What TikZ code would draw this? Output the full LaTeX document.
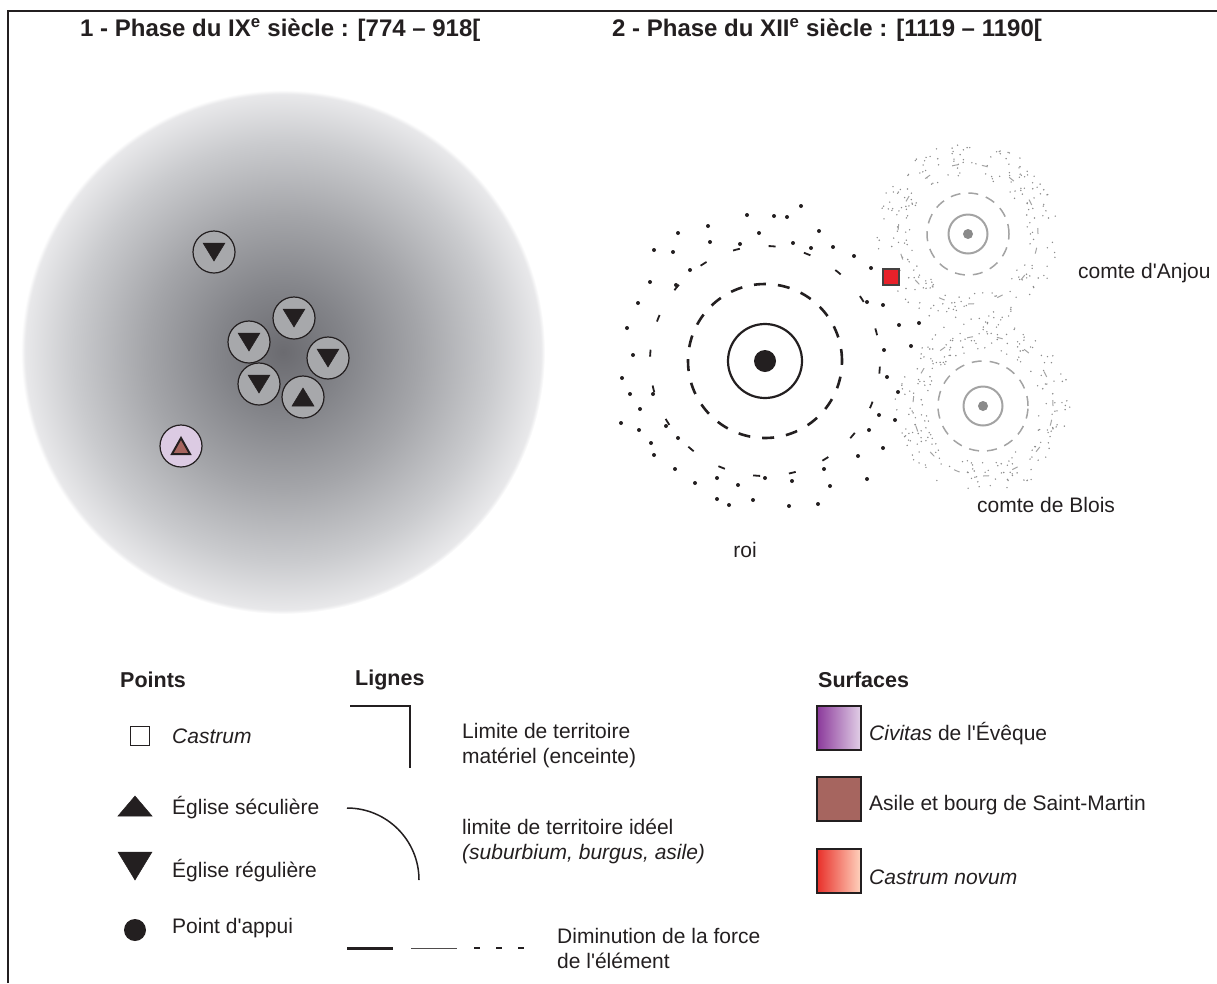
\documentclass[tikz,border=0pt]{standalone}
\usepackage{fontspec}
\setmainfont{Liberation Sans}
\usetikzlibrary{calc}
\definecolor{ink}{HTML}{231F20}
\definecolor{chgray}{HTML}{A7A8AB}
\definecolor{lavender}{HTML}{DCCBE3}
\definecolor{brique}{HTML}{A6655F}
\definecolor{rouge}{HTML}{E8212A}
\definecolor{comtegray}{HTML}{A3A3A3}
\definecolor{dotgray}{HTML}{8A8A8A}
\definecolor{stip}{HTML}{8C8C8C}
\definecolor{sh0}{HTML}{6B6B70}
\definecolor{sh1}{HTML}{838489}
\definecolor{sh2}{HTML}{A4A5A9}
\definecolor{sh3}{HTML}{CACBCE}
\definecolor{sh4}{HTML}{E8E8EA}
\definecolor{purA}{HTML}{8B3A9B}
\definecolor{purB}{HTML}{E2D0E7}
\definecolor{redA}{HTML}{E8302A}
\definecolor{redB}{HTML}{FFD3BE}
\pgfdeclareradialshading{halo}{\pgfpoint{0bp}{0bp}}{%
  color(0bp)=(sh0); color(6bp)=(sh1); color(13bp)=(sh2); color(20bp)=(sh3); color(24.6bp)=(sh4); color(25bp)=(white); color(50bp)=(white)}
\tikzset{
  body/.style={font=\fontsize{21}{25}\selectfont, text=ink, inner sep=0pt},
  head/.style={font=\fontsize{21.5}{25}\selectfont\bfseries, text=ink, inner sep=0pt, anchor=west},
  title/.style={font=\fontsize{24}{28}\selectfont\bfseries, text=ink, inner sep=0pt, anchor=west},
  church/.style={circle, draw=ink, line width=1.2pt, fill=chgray, minimum size=42pt, inner sep=0pt},
  tri/.style={fill=ink, draw=ink, line width=0.5pt, line join=miter},
  swatch/.style={draw=ink, line width=1.6pt, minimum size=44pt, inner sep=0pt},
}
\newcommand{\downtri}[3]{\path[tri] ($(#1)+(-#2,-#3)$) -- ($(#1)+(#2,-#3)$) -- ($(#1)+(0,#3)$) -- cycle;}
\newcommand{\uptri}[3]{\path[tri] ($(#1)+(-#2,#3)$) -- ($(#1)+(#2,#3)$) -- ($(#1)+(0,-#3)$) -- cycle;}
\begin{document}
\begin{tikzpicture}[x=1pt,y=-1pt]
\useasboundingbox (0,0) rectangle (1217,983);
% frame
\draw[ink, line width=2.5pt] (8,983) -- (8,11) -- (1217,11);
% titles
\node[title] (t1) at (80,30) {1 - Phase du IX\textsuperscript{e} siècle : [774 – 918[};
\node[title] (t2) at (612,30) {2 - Phase du XII\textsuperscript{e} siècle : [1119 – 1190[};

% ===== Panel 1 =====
\path[shading=halo] (283,352) circle[radius=262pt];
\node[church] (c1) at (214,252) {};
\node[church] (c2) at (294,318) {};
\node[church] (c3) at (249,342) {};
\node[church] (c4) at (328,358) {};
\node[church] (c5) at (259,384) {};
\node[church] (c6) at (303,397) {};
\node[church, fill=lavender] (c7) at (181,446) {};
\downtri{c1}{11}{9}
\downtri{c2}{11}{9}
\downtri{c3}{11}{9}
\downtri{c4}{11}{9}
\downtri{c5}{11}{9}
\uptri{c6}{11}{9}
\path[fill=brique, draw=ink, line width=2pt, line join=miter] ($(c7)+(-9,8)$) -- ($(c7)+(9,8)$) -- ($(c7)+(0,-8)$) -- cycle;

% ===== Panel 2 : roi =====
\coordinate (roi) at (765,361);
\fill[ink] (roi) circle[radius=11pt];
\draw[ink, line width=2.2pt] (roi) circle[radius=37pt];
\draw[ink, line width=2.6pt, dash pattern=on 12pt off 12pt] (roi) circle[radius=77pt];
\draw[ink, line width=1.8pt, dash pattern=on 7pt off 29pt, dash phase=10pt] (roi) circle[radius=115pt];
\foreach \p in {(801,206),(747,215),(774,216),(787,217),(708,226),(678,233),(759,233),(819,231),
  (710,242),(740,244),(793,243),(811,248),(833,247),(654,250),(673,252),(854,256),(690,270),(871,268),
  (650,282),(676,285),(638,303),(867,302),(883,305),(899,325),(919,323),(627,328),(633,355),(884,350),(911,346),
  (622,378),(887,377),(630,394),(653,394),(898,392),(640,409),(621,423),(639,430),(666,426),(678,438),
  (879,415),(895,420),(869,430),(651,443),(654,455),(883,448),(858,456),(675,469),(824,469),(695,483),
  (717,478),(738,485),(765,478),(792,481),(830,486),(867,479),(717,499),(729,505),(753,500),(789,506),(818,504)}
  \fill[ink] \p circle[radius=2pt];

% ===== comtes =====
\coordinate (anjou) at (968,234);
\coordinate (blois) at (983,406);
\pgfmathsetseed{7}
\foreach \c/\rin/\rout in {anjou/58/92, blois/56/88}{
  \foreach \i in {1,...,230}{
    \pgfmathsetmacro{\ang}{360*rnd}
    \pgfmathsetmacro{\rr}{\rin+(\rout-\rin)*rnd}
    \fill[stip] ($(\c)+(\ang:\rr pt)$) circle[radius=0.8pt];
  }
}
\foreach \c/\rd in {anjou/41, blois/45}{
  \fill[dotgray] (\c) circle[radius=5pt];
  \draw[comtegray, line width=2pt] (\c) circle[radius=19.5pt];
  \draw[comtegray, line width=1.5pt, dash pattern=on 10pt off 8pt] (\c) circle[radius=\rd pt];
  \draw[comtegray, line width=1pt, dash pattern=on 6pt off 24pt] (\c) circle[radius=70pt];
}
\node[rectangle, draw=ink!85, line width=1.5pt, fill=rouge, minimum size=16pt, inner sep=0pt] (castrum) at (891,277) {};

\node[body, anchor=west] (lanjou) at (1078,273) {comte d\textquotesingle Anjou};
\node[body, anchor=west] (lblois) at (977,505) {comte de Blois};
\node[body] (lroi) at (745,550) {roi};

% ===== Legend : Points =====
\node[head] (hpoints) at (120,680) {Points};
\node[draw=ink, line width=1.3pt, minimum size=19pt, inner sep=0pt] (lcast) at (140,736) {};
\node[body, anchor=west] (tcast) at (172,736) {\itshape Castrum};
\coordinate (lsec) at (135,806);
\path[tri] ($(lsec)+(-17,10)$) -- ($(lsec)+(17,10)$) -- ($(lsec)+(0,-10)$) -- cycle;
\node[body, anchor=west] (tsec) at (172,808) {Église séculière};
\coordinate (lreg) at (135,866);
\path[tri] ($(lreg)+(-17,-14)$) -- ($(lreg)+(17,-14)$) -- ($(lreg)+(0,14)$) -- cycle;
\node[body, anchor=west] (treg) at (172,871) {Église régulière};
\fill[ink] (135,930) coordinate (lapp) circle[radius=11pt];
\node[body, anchor=west] (tapp) at (172,928) {Point d\textquotesingle appui};

% ===== Legend : Lignes =====
\node[head] (hlignes) at (355,680) {Lignes};
\coordinate (lc1) at (350,706);
\coordinate (lc2) at (410,706);
\coordinate (lc3) at (410,768);
\draw[ink, line width=2pt] (lc1) -- (lc2) -- (lc3);
\node[body, anchor=west, align=left] (tmat) at (462,746) {Limite de territoire\\matériel (enceinte)};
\coordinate (la1) at (347,808);
\coordinate (la2) at (419,880);
\draw[ink, line width=1.5pt] (la1) .. controls (386.8,808) and (419,840.2) .. (la2);
\node[body, anchor=west, align=left] (tid) at (462,841) {limite de territoire idéel\\\itshape (suburbium, burgus, asile)};
\coordinate (ld1) at (347,948);
\coordinate (ld2) at (393,948);
\coordinate (ld3) at (411,948);
\coordinate (ld4) at (457,948);
\coordinate (ld5) at (474,948);
\coordinate (ld6) at (525,948);
\draw[ink, line width=3pt] (ld1) -- (ld2);
\draw[ink!80, line width=1pt] (ld3) -- (ld4);
\draw[ink, line width=1.3pt, dash pattern=on 6pt off 16pt] (ld5) -- (ld6);
\node[body, anchor=west, align=left] (tdim) at (557,948) {Diminution de la force\\de l\textquotesingle élément};

% ===== Legend : Surfaces =====
\node[head] (hsurf) at (818,680) {Surfaces};
\node[swatch, left color=purA, right color=purB] (s1) at (839,728) {};
\node[body, anchor=west] (ts1) at (869,734) {\itshape Civitas\upshape{} de l\textquotesingle Évêque};
\node[swatch, fill=brique] (s2) at (839,799) {};
\node[body, anchor=west] (ts2) at (869,805) {Asile et bourg de Saint-Martin};
\node[swatch, left color=redA, right color=redB] (s3) at (839,871) {};
\node[body, anchor=west] (ts3) at (869,877) {\itshape Castrum novum};
\end{tikzpicture}
\end{document}
